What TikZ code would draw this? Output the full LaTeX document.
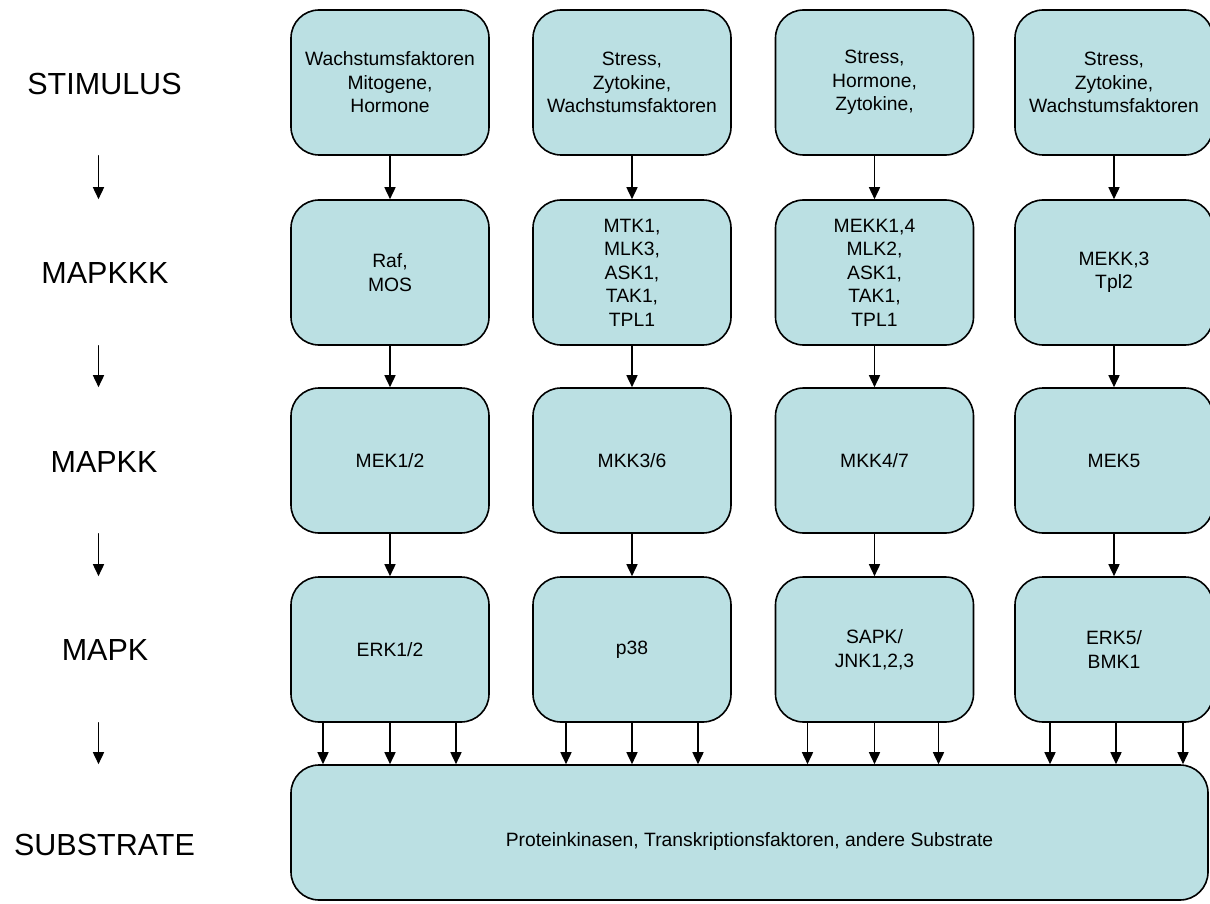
\documentclass[tikz,border=0pt]{standalone}
\usepackage{fontspec}
\setmainfont{Liberation Sans}
\usetikzlibrary{arrows.meta}
\definecolor{bbeeee}{rgb}{0.733,0.878,0.890}

\begin{document}
\begin{tikzpicture}[line cap=round,line join=round,x=1pt,y=-1pt,
  kasten/.style={draw=black,line width=1.6pt,fill=bbeeee,rounded corners=28pt,minimum width=198pt,minimum height=145pt,align=center,inner sep=2pt,font=\fontsize{19.3}{23.5}\selectfont},
  ebene/.style={font=\fontsize{30.5}{36}\selectfont},
  pfeil/.style={-{Triangle[length=12pt,width=11pt]},line width=1.6pt}]
\useasboundingbox (0,0) rectangle (1210,904);
% Ebenen
\node[ebene] (stim) at (104.5,84) {STIMULUS};
\node[ebene] (kkk) at (105,273) {MAPKKK};
\node[ebene] (kk) at (104,462) {MAPKK};
\node[ebene] (k) at (105,650) {MAPK};
\node[ebene] (sub) at (104.5,845) {SUBSTRATE};
% Stimulus
\node[kasten] (a1) at (390,82.5) {Wachstumsfaktoren\\Mitogene,\\Hormone};
\node[kasten] (a2) at (632,82.5) {Stress,\\Zytokine,\\Wachstumsfaktoren};
\node[kasten] (a3) at (874.5,82.5) {Stress,\\Hormone,\\Zytokine,};
\node[kasten] (a4) at (1114,82.5) {Stress,\\Zytokine,\\Wachstumsfaktoren};
% MAPKKK
\node[kasten] (b1) at (390,272.5) {Raf,\\MOS};
\node[kasten] (b2) at (632,272.5) {MTK1,\\MLK3,\\ASK1,\\TAK1,\\TPL1};
\node[kasten] (b3) at (874.5,272.5) {MEKK1,4\\MLK2,\\ASK1,\\TAK1,\\TPL1};
\node[kasten] (b4) at (1114,272.5) {MEKK,3\\Tpl2};
% MAPKK
\node[kasten] (c1) at (390,460.5) {MEK1/2};
\node[kasten] (c2) at (632,460.5) {MKK3/6};
\node[kasten] (c3) at (874.5,460.5) {MKK4/7};
\node[kasten] (c4) at (1114,460.5) {MEK5};
% MAPK
\node[kasten] (d1) at (390,649.5) {ERK1/2};
\node[kasten] (d2) at (632,649.5) {p38};
\node[kasten] (d3) at (874.5,649.5) {SAPK/\\JNK1,2,3};
\node[kasten] (d4) at (1114,649.5) {ERK5/\\BMK1};
% Substrate
\node[kasten,minimum width=917pt,minimum height=135pt,text height=27pt,text depth=0pt] (e) at (749.5,832.5) {Proteinkinasen, Transkriptionsfaktoren, andere Substrate};
% Pfeile in den Spalten
\draw[pfeil] (a1) -- (b1);
\draw[pfeil] (b1) -- (c1);
\draw[pfeil] (c1) -- (d1);
\draw[pfeil] (a2) -- (b2);
\draw[pfeil] (b2) -- (c2);
\draw[pfeil] (c2) -- (d2);
\draw[pfeil] (a3) -- (b3);
\draw[pfeil] (b3) -- (c3);
\draw[pfeil] (c3) -- (d3);
\draw[pfeil] (a4) -- (b4);
\draw[pfeil] (b4) -- (c4);
\draw[pfeil] (c4) -- (d4);
% Pfeile zu den Substraten
\draw[pfeil] ([xshift=-67pt]d1.south) -- ([xshift=-67pt]d1.south |- e.north);
\draw[pfeil] (d1.south) -- (d1.south |- e.north);
\draw[pfeil] ([xshift=66pt]d1.south) -- ([xshift=66pt]d1.south |- e.north);
\draw[pfeil] ([xshift=-66pt]d2.south) -- ([xshift=-66pt]d2.south |- e.north);
\draw[pfeil] (d2.south) -- (d2.south |- e.north);
\draw[pfeil] ([xshift=66pt]d2.south) -- ([xshift=66pt]d2.south |- e.north);
\draw[pfeil] ([xshift=-67pt]d3.south) -- ([xshift=-67pt]d3.south |- e.north);
\draw[pfeil] (d3.south) -- (d3.south |- e.north);
\draw[pfeil] ([xshift=64pt]d3.south) -- ([xshift=64pt]d3.south |- e.north);
\draw[pfeil] ([xshift=-64pt]d4.south) -- ([xshift=-64pt]d4.south |- e.north);
\draw[pfeil] ([xshift=2pt]d4.south) -- ([xshift=2pt]d4.south |- e.north);
\draw[pfeil] ([xshift=69pt]d4.south) -- ([xshift=69pt]d4.south |- e.north);
% Pfeile links
\draw[pfeil] ([xshift=-6pt]stim.center |- a1.south) -- ([xshift=-6pt]stim.center |- b1.north);
\draw[pfeil] ([xshift=-6pt]stim.center |- b1.south) -- ([xshift=-6pt]stim.center |- c1.north);
\draw[pfeil] ([xshift=-6pt]stim.center |- c1.south) -- ([xshift=-6pt]stim.center |- d1.north);
\draw[pfeil] ([xshift=-6pt]stim.center |- d1.south) -- ([xshift=-6pt]stim.center |- e.north);
\end{tikzpicture}
\end{document}
